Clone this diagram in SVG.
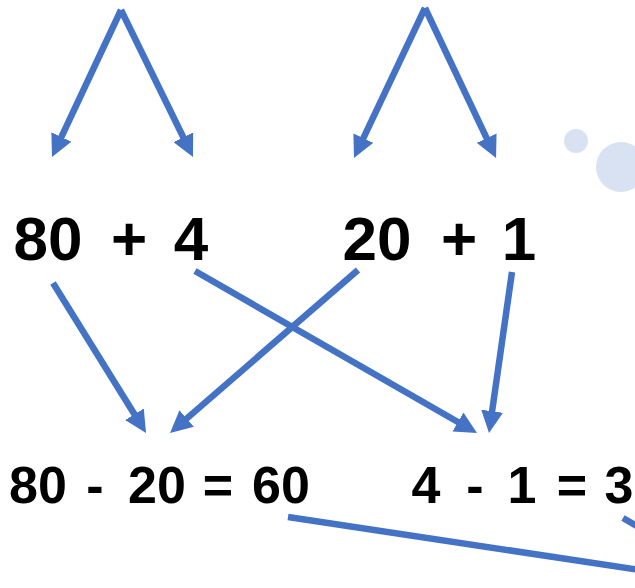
<svg xmlns="http://www.w3.org/2000/svg" width="635" height="588" viewBox="0 0 635 588">
  <defs>
    <marker id="ah" markerUnits="userSpaceOnUse" markerWidth="24" markerHeight="22" refX="10" refY="11" orient="auto">
      <path d="M0,0 L22,11 L0,22 z" fill="#4472c4"/>
    </marker>
    <style>
      .c { stroke: #4472c4; stroke-width: 6.5; fill: none; }
      .a { marker-end: url(#ah); }
      .t1 { font-family: "Liberation Sans", Arial, sans-serif; font-weight: bold; font-size: 62px; fill: #000; text-anchor: middle; }
      .t2 { font-family: "Liberation Sans", Arial, sans-serif; font-weight: bold; font-size: 52px; fill: #000; text-anchor: middle; }
      .bub { fill: #d9e2f3; }
    </style>
  </defs>
  <rect width="635" height="588" fill="#fff"/>
  <g id="bubbles">
    <circle class="bub" cx="576" cy="141" r="12"/>
    <circle class="bub" cx="621" cy="167" r="25"/>
  </g>
  <g id="connectors">
    <line class="c a" x1="121" y1="10" x2="57.1" y2="146.1"/>
    <line class="c a" x1="121" y1="10" x2="187.7" y2="146.2"/>
    <line class="c a" x1="425" y1="8" x2="359.1" y2="147.2"/>
    <line class="c a" x1="425" y1="8" x2="490.9" y2="147.2"/>
    <line class="c a" x1="53" y1="283" x2="139.7" y2="422.8"/>
    <line class="c a" x1="195" y1="271" x2="466.6" y2="427"/>
    <line class="c a" x1="358" y1="270" x2="179.1" y2="425.1"/>
    <line class="c a" x1="512" y1="272" x2="490.7" y2="421.1"/>
    <line class="c" x1="288" y1="517" x2="640" y2="570"/>
    <line class="c" x1="623" y1="518" x2="642" y2="529"/>
  </g>
  <g id="top-left">
    <text class="t1" y="260"><tspan x="48">80</tspan><tspan x="129">+</tspan><tspan x="191">4</tspan></text>
  </g>
  <g id="top-right">
    <text class="t1" y="260"><tspan x="377">20</tspan><tspan x="459">+</tspan><tspan x="519">1</tspan></text>
  </g>
  <g id="bottom-left">
    <text class="t2" y="503"><tspan x="38">80</tspan><tspan x="95">-</tspan><tspan x="157">20</tspan><tspan x="218">=</tspan><tspan x="281">60</tspan></text>
  </g>
  <g id="bottom-right">
    <text class="t2" y="503"><tspan x="426">4</tspan><tspan x="475">-</tspan><tspan x="522">1</tspan><tspan x="572">=</tspan><tspan x="619">3</tspan></text>
  </g>
</svg>
